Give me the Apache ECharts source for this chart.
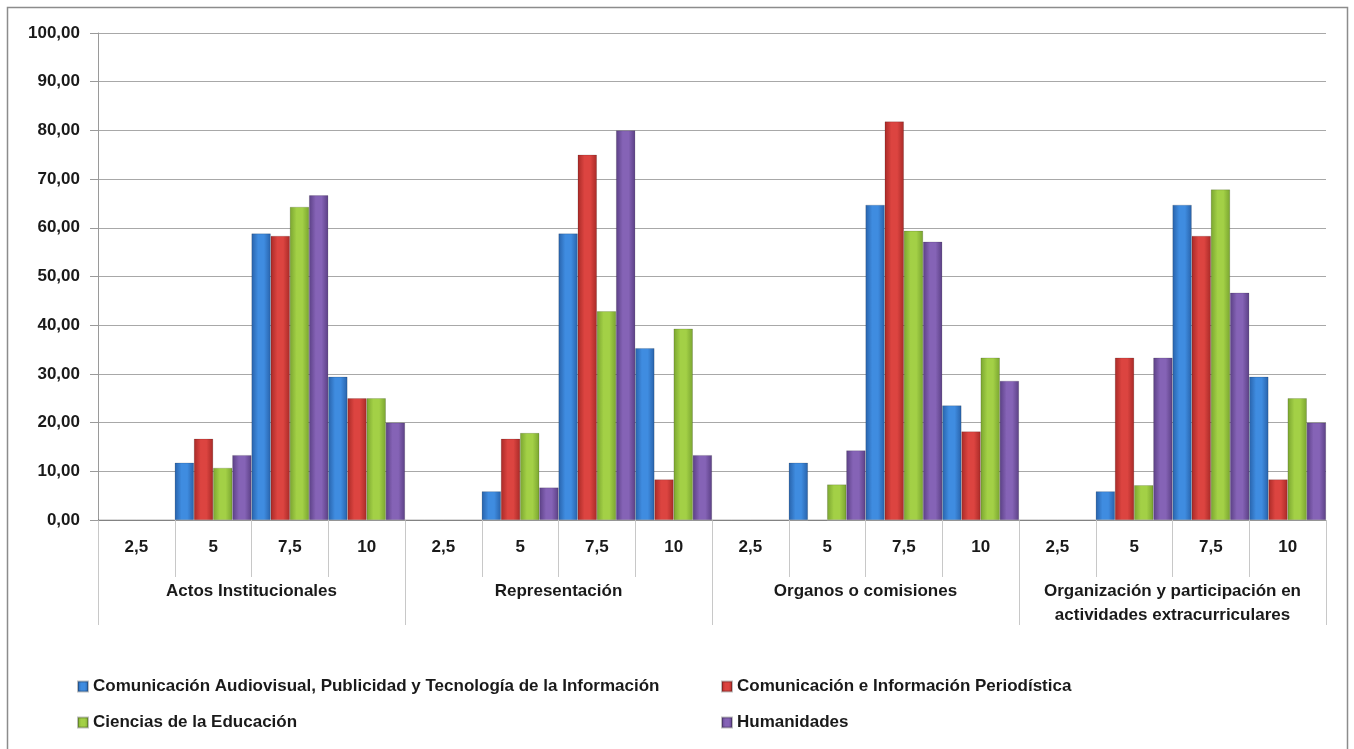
<!DOCTYPE html>
<html>
<head>
<meta charset="utf-8">
<script src="https://cdn.jsdelivr.net/npm/echarts@6/dist/echarts.min.js"></script>
<style>
html,body{margin:0;padding:0;background:#fff;}
#chart{width:1354px;height:749px;}
</style>
</head>
<body>
<div id="chart"></div>
<script>
const subCategories = ['2,5','5','7,5','10','2,5','5','7,5','10','2,5','5','7,5','10','2,5','5','7,5','10'];
const groups = ['Actos Institucionales','Representación','Organos o comisiones','Organización y participación en\nactividades extracurriculares'];
const seriesNames = ['Comunicación Audiovisual, Publicidad y Tecnología de la Información','Comunicación e Información Periodística','Ciencias de la Educación','Humanidades'];
const audiovisual  = [0,11.76,58.82,29.41, 0,5.88,58.82,35.29, 0,11.76,64.71,23.53, 0,5.88,64.71,29.41];
const periodistica = [0,16.67,58.33,25.00, 0,16.67,75.00,8.33, 0,0,81.82,18.18, 0,33.33,58.33,8.33];
const educacion    = [0,10.71,64.29,25.00, 0,17.86,42.86,39.29, 0,7.29,59.38,33.33, 0,7.14,67.86,25.00];
const humanidades  = [0,13.33,66.67,20.00, 0,6.67,80.00,13.33, 0,14.29,57.14,28.57, 0,33.33,46.67,20.00];
const yTicks = [0,10,20,30,40,50,60,70,80,90,100];

const FONT = 'Liberation Sans';
const palette = [
  ['#2862aa','#3f8ce0'],
  ['#a82a27','#dc4440'],
  ['#7aa530','#a3d046'],
  ['#5b4085','#8563b6']
];
function grad(c){
  return new echarts.graphic.LinearGradient(0,0,1,0,[
    {offset:0,color:c[0]},{offset:0.35,color:c[1]},{offset:0.65,color:c[1]},{offset:1,color:c[0]}
  ]);
}
const values = [audiovisual, periodistica, educacion, humanidades];
const legendText = {fontFamily:FONT,fontWeight:'bold',fontSize:17,color:'#1a1a1a'};
const chart = echarts.init(document.getElementById('chart'));
chart.setOption({
  backgroundColor:'#fff',
  animation:false,
  textStyle:{fontFamily:FONT},
  graphic:[{type:'rect',shape:{x:7.5,y:7.5,width:1340,height:770},style:{fill:'none',stroke:'#8c8c8c',lineWidth:1.5},silent:true}],
  grid:{left:98,right:28,top:33,bottom:229,containLabel:false},
  legend:[
    {data:[seriesNames[0],seriesNames[2]],orient:'vertical',left:72,top:673,itemGap:19,itemWidth:10,itemHeight:10,
     textStyle:legendText,icon:'rect'},
    {data:[seriesNames[1],seriesNames[3]],orient:'vertical',left:716,top:673,itemGap:19,itemWidth:10,itemHeight:10,
     textStyle:legendText,icon:'rect'}
  ],
  xAxis:[
    {type:'category',data:subCategories,position:'bottom',
     axisLine:{show:true,lineStyle:{color:'#9a9a9a',width:1}},
     axisTick:{show:true,length:57,interval:0,lineStyle:{color:'#c8c8c8'}},
     axisLabel:{interval:0,margin:19,fontFamily:FONT,fontWeight:'bold',fontSize:17,color:'#1a1a1a'}},
    {type:'category',data:groups,position:'bottom',
     axisLine:{show:false},
     axisTick:{show:true,length:105,interval:0,lineStyle:{color:'#c8c8c8'}},
     axisLabel:{interval:0,margin:59,fontFamily:FONT,fontWeight:'bold',fontSize:17,lineHeight:24,color:'#1a1a1a'}}
  ],
  yAxis:{type:'value',min:0,max:100,interval:10,
    axisLine:{show:true,lineStyle:{color:'#9a9a9a'}},
    axisTick:{show:true,length:8,lineStyle:{color:'#9a9a9a'}},
    splitLine:{lineStyle:{color:'#a8a8a8',width:1}},
    axisLabel:{margin:18,fontFamily:FONT,fontWeight:'bold',fontSize:17,color:'#1a1a1a',
      formatter:v=>v.toFixed(2).replace('.',',')}},
  series: values.map((d,i)=>({
    name:seriesNames[i],type:'bar',xAxisIndex:0,data:d,
    barGap:'0%',barCategoryGap:'0%',
    itemStyle:{color:grad(palette[i]),borderColor:'rgba(0,0,0,0.25)',borderWidth:0.6}
  })),
  color: palette.map(p=>p[1])
});
</script>
</body>
</html>
